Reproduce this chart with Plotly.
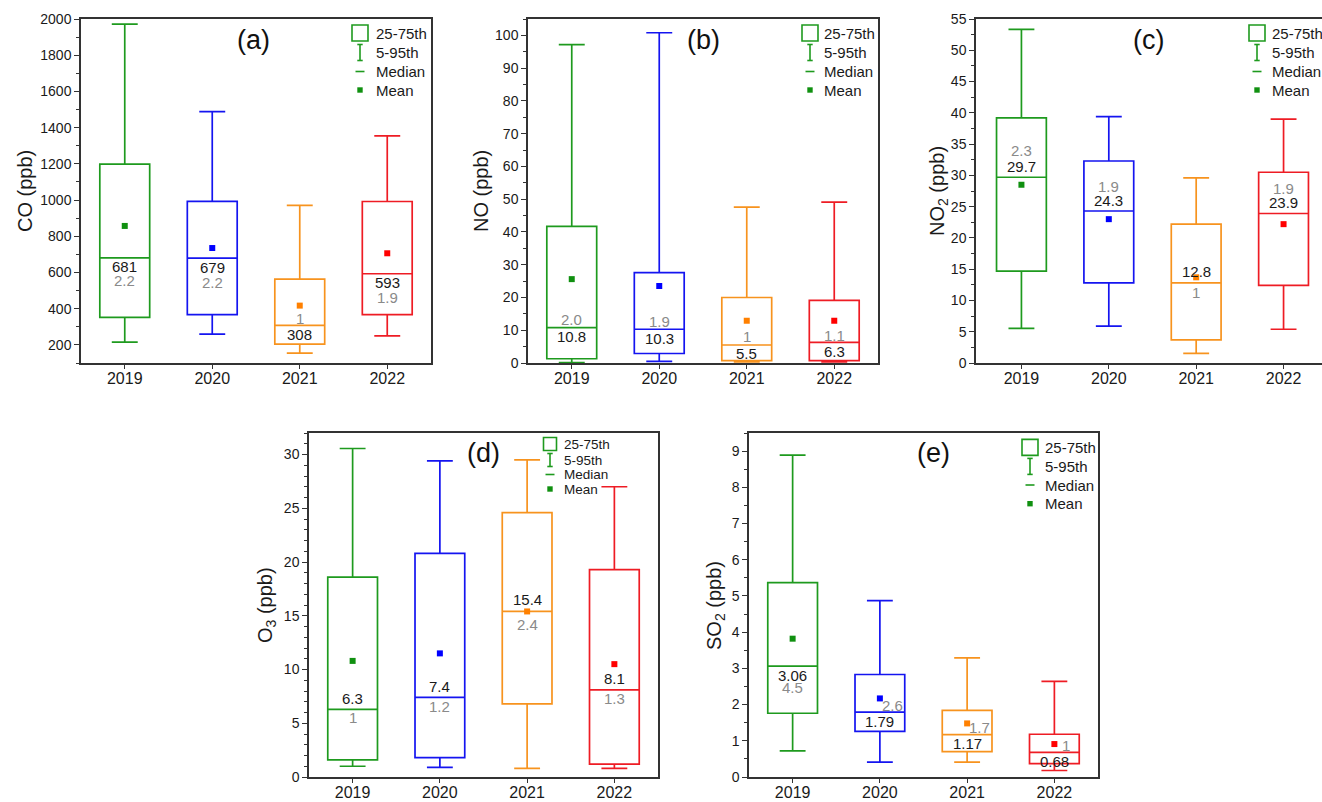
import plotly.graph_objects as go

W, H = 1322, 802

# ---------------- data ----------------
years = ["2019", "2020", "2021", "2022"]

co_p5 = [215, 259, 154, 250]
co_q1 = [352, 367, 204, 367]
co_med = [681, 679, 308, 593]
co_q3 = [1198, 993, 563, 992]
co_p95 = [1972, 1488, 971, 1354]
co_mean = [857, 735, 417, 706]
co_lab = ["681", "679", "308", "593"]
co_lab2 = ["2.2", "2.2", "1", "1.9"]

no_p5 = [0.1, 0.5, 0.3, 0.3]
no_q1 = [1.3, 2.9, 0.7, 0.7]
no_med = [10.8, 10.3, 5.5, 6.3]
no_q3 = [41.7, 27.6, 20.0, 19.1]
no_p95 = [97.2, 100.8, 47.6, 49.1]
no_mean = [25.6, 23.5, 12.9, 12.9]
no_lab = ["10.8", "10.3", "5.5", "6.3"]
no_lab2 = ["2.0", "1.9", "1", "1.1"]

no2_p5 = [5.55, 5.9, 1.55, 5.4]
no2_q1 = [14.7, 12.8, 3.7, 12.4]
no2_med = [29.7, 24.3, 12.8, 23.9]
no2_q3 = [39.2, 32.3, 22.2, 30.5]
no2_p95 = [53.35, 39.4, 29.6, 39.0]
no2_mean = [28.5, 23.0, 13.7, 22.2]
no2_lab = ["29.7", "24.3", "12.8", "23.9"]
no2_lab2 = ["2.3", "1.9", "1", "1.9"]

o3_p5 = [1.0, 0.9, 0.8, 0.8]
o3_q1 = [1.6, 1.8, 6.8, 1.2]
o3_med = [6.3, 7.4, 15.4, 8.1]
o3_q3 = [18.6, 20.8, 24.6, 19.3]
o3_p95 = [30.56, 29.4, 29.5, 27.0]
o3_mean = [10.8, 11.5, 15.4, 10.5]
o3_lab = ["6.3", "7.4", "15.4", "8.1"]
o3_lab2 = ["1", "1.2", "2.4", "1.3"]

so2_p5 = [0.72, 0.41, 0.41, 0.18]
so2_q1 = [1.76, 1.26, 0.70, 0.37]
so2_med = [3.06, 1.79, 1.17, 0.68]
so2_q3 = [5.37, 2.83, 1.84, 1.18]
so2_p95 = [8.89, 4.87, 3.29, 2.64]
so2_mean = [3.82, 2.17, 1.48, 0.91]
so2_lab = ["3.06", "1.79", "1.17", "0.68"]
so2_lab2 = ["4.5", "2.6", "1.7", "1"]

legend_labels = ["25-75th", "5-95th", "Median", "Mean"]

# ---------------- styles ----------------
box_colors = ["#1e9a1e", "#1414f0", "#f7931e", "#ee1c24"]
mean_colors = ["#109010", "#0000ff", "#ff8000", "#ff0000"]
green = "#1e9a1e"
axis_col = "#333333"
txt_col = "#1a1a1a"
gray_col = "#8a8a8a"
FONT = "Arial, 'Liberation Sans', sans-serif"

panels = [
    dict(label="(a)", title="CO (ppb)", p5=co_p5, q1=co_q1, med=co_med, q3=co_q3, p95=co_p95,
         mean=co_mean, lab=co_lab, lab2=co_lab2,
         frame=(81, 431, 19, 363), xr=[-0.5, 3.5], yr=[100, 2000], dtick=200, minor=100,
         tx=25, labpos=(253, 40), leg=(279, 293, [14, 33.5, 52.5, 71], 15, 16),
         offs=[(-9, -23, 0), (-9, -24, 0), (-9, 7, 0), (-9, -23.5, 0)]),
    dict(label="(b)", title="NO (ppb)", p5=no_p5, q1=no_q1, med=no_med, q3=no_q3, p95=no_p95,
         mean=no_mean, lab=no_lab, lab2=no_lab2,
         frame=(528, 878, 19, 363), xr=[-0.5, 3.5], yr=[0, 105], dtick=10, minor=5,
         tx=481, labpos=(703, 40), leg=(282, 294, [14, 33.5, 52.5, 71], 15, 16),
         offs=[(-9, 8, 0), (-9, 7.5, 0), (-9, 8, 0), (-9, 7, 0)]),
    dict(label="(c)", title="NO<sub>2</sub> (ppb)", p5=no2_p5, q1=no2_q1, med=no2_med, q3=no2_q3,
         p95=no2_p95, mean=no2_mean, lab=no2_lab, lab2=no2_lab2,
         frame=(976, 1322, 19, 363), xr=[-0.52, 3.44], yr=[0, 55], dtick=5, minor=2.5,
         tx=938, labpos=(1148, 40), leg=(281, 294, [14, 33.5, 52.5, 71], 15, 16),
         offs=[(11, 27, 0), (11, 24.5, 0), (11, -9.5, 0), (11, 25, 0)]),
    dict(label="(d)", title="O<sub>3</sub> (ppb)", p5=o3_p5, q1=o3_q1, med=o3_med, q3=o3_q3,
         p95=o3_p95, mean=o3_mean, lab=o3_lab, lab2=o3_lab2,
         frame=(309, 658, 433, 777), xr=[-0.5, 3.5], yr=[0, 32], dtick=5, minor=1,
         tx=266, labpos=(483, 453), leg=(241, 253, [11, 27, 41.5, 56], 13.5, 13),
         offs=[(11, -8.5, 0), (11, -9, 0), (11.5, -13.5, 0), (11.5, -8.5, 0)]),
    dict(label="(e)", title="SO<sub>2</sub> (ppb)", p5=so2_p5, q1=so2_q1, med=so2_med, q3=so2_q3,
         p95=so2_p95, mean=so2_mean, lab=so2_lab, lab2=so2_lab2,
         frame=(749, 1098, 433, 777), xr=[-0.5, 3.5], yr=[0, 9.5], dtick=1, minor=0.5,
         tx=715, labpos=(933, 453), leg=(281, 294, [14.4, 33.4, 52, 70.7], 15, 16),
         offs=[(-9, -21.5, 0), (-9, 6.7, 12.5), (-9, 6.8, 12.5), (-9, 7, 11.5)]),
]


def px(x):
    return x / W


def py(y):
    return 1 - y / H


fig = go.Figure()
annotations = []
shapes = []

for i, p in enumerate(panels):
    n = "" if i == 0 else str(i + 1)
    xa, ya = "x" + n, "y" + n
    L, R, T, B = p["frame"]

    for j, yr in enumerate(years):
        fig.add_trace(go.Box(
            x=[yr], q1=[p["q1"][j]], median=[p["med"][j]], q3=[p["q3"][j]],
            lowerfence=[p["p5"][j]], upperfence=[p["p95"][j]],
            width=0.57, whiskerwidth=0.52, boxpoints=False,
            line=dict(color=box_colors[j], width=1.7), fillcolor="rgba(0,0,0,0)",
            xaxis=xa, yaxis=ya, showlegend=False, hoverinfo="skip"))
        fig.add_trace(go.Scatter(
            x=[yr], y=[p["mean"][j]], mode="markers",
            marker=dict(symbol="square", size=6, color=mean_colors[j]),
            xaxis=xa, yaxis=ya, showlegend=False, hoverinfo="skip"))
        by, gy, gx = p["offs"][j]
        annotations.append(dict(x=j, y=p["med"][j], xref=xa, yref=ya, text=p["lab"][j],
                                showarrow=False, yshift=by, xanchor="center", yanchor="middle",
                                font=dict(size=15, color=txt_col)))
        annotations.append(dict(x=j, y=p["med"][j], xref=xa, yref=ya, text=p["lab2"][j],
                                showarrow=False, yshift=gy, xshift=gx,
                                xanchor="center", yanchor="middle",
                                font=dict(size=15, color=gray_col)))

    axkw = dict(showline=True, mirror=True, linecolor=axis_col, linewidth=1.5,
                showgrid=False, zeroline=False, ticks="outside", tickcolor=axis_col,
                tickwidth=1.3, automargin=False)
    fig.update_layout(**{
        ("xaxis" + n): dict(domain=[px(L), px(R)], anchor=ya, type="category",
                            categoryorder="array", categoryarray=years, range=p["xr"],
                            ticklen=4, ticklabelstandoff=-4,
                            tickfont=dict(size=16, color=txt_col, family=FONT), **axkw),
        ("yaxis" + n): dict(domain=[py(B), py(T)], anchor=xa, range=p["yr"],
                            dtick=p["dtick"], tick0=0, ticklen=5,
                            minor=dict(dtick=p["minor"], ticks="outside", ticklen=3,
                                       tickcolor=axis_col, tickwidth=1.2),
                            tickfont=dict(size=14, color=txt_col, family=FONT), **axkw),
    })

    # axis title
    annotations.append(dict(x=px(p["tx"]), y=py((T + B) / 2), xref="paper", yref="paper",
                            text=p["title"], textangle=-90, showarrow=False,
                            xanchor="center", yanchor="middle",
                            font=dict(size=20, color=txt_col)))
    # panel label
    annotations.append(dict(x=px(p["labpos"][0]), y=py(p["labpos"][1]), xref="paper",
                            yref="paper", text=p["label"], showarrow=False,
                            xanchor="center", yanchor="middle",
                            font=dict(size=27, color="#111111")))

    # legend
    icx, tlx, rows, lfs, sq = p["leg"]
    cx = L + icx
    for k, txt in enumerate(legend_labels):
        cy = T + rows[k]
        annotations.append(dict(x=px(L + tlx), y=py(cy), xref="paper", yref="paper",
                                text=txt, showarrow=False, xanchor="left", yanchor="middle",
                                font=dict(size=lfs, color=txt_col)))
    h = sq / 2
    cy = T + rows[0]
    shapes.append(dict(type="rect", xref="paper", yref="paper", x0=px(cx - h), x1=px(cx + h),
                       y0=py(cy + h), y1=py(cy - h), line=dict(color=green, width=1.6)))
    cy = T + rows[1]
    hh = sq / 2
    shapes.append(dict(type="line", xref="paper", yref="paper", x0=px(cx), x1=px(cx),
                       y0=py(cy + hh), y1=py(cy - hh), line=dict(color=green, width=1.6)))
    for yy in (cy - hh, cy + hh):
        shapes.append(dict(type="line", xref="paper", yref="paper", x0=px(cx - 2.7),
                           x1=px(cx + 2.7), y0=py(yy), y1=py(yy),
                           line=dict(color=green, width=1.6)))
    cy = T + rows[2]
    shapes.append(dict(type="line", xref="paper", yref="paper", x0=px(cx - 4.5),
                       x1=px(cx + 4.5), y0=py(cy), y1=py(cy), line=dict(color=green, width=1.6)))
    cy = T + rows[3]
    shapes.append(dict(type="rect", xref="paper", yref="paper", x0=px(cx - 2.7),
                       x1=px(cx + 2.7), y0=py(cy + 2.7), y1=py(cy - 2.7),
                       line=dict(width=0), fillcolor="#109010"))

fig.update_layout(
    width=W, height=H, margin=dict(l=0, r=0, t=0, b=0, pad=0),
    paper_bgcolor="white", plot_bgcolor="white", boxmode="overlay",
    font=dict(family=FONT, color=txt_col),
    annotations=annotations, shapes=shapes, showlegend=False,
)

fig.write_html("out.html", config={"displayModeBar": False},
               post_script="document.body.style.margin='0';")
